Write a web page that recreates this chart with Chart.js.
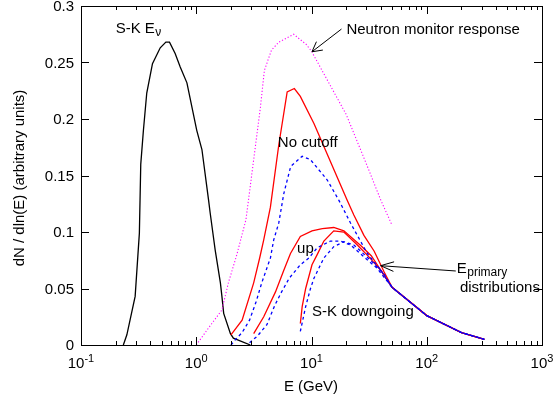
<!DOCTYPE html>
<html>
<head>
<meta charset="utf-8">
<script src="https://cdn.jsdelivr.net/npm/chart.js@4"></script>
<style>
  html, body { margin: 0; padding: 0; background: #fff; }
  #wrap { width: 554px; height: 402px; }
</style>
</head>
<body>
<div id="wrap"><canvas id="chart" width="554" height="402"></canvas></div>
<script>
// S-K neutrino energy spectrum (E in GeV, dN/dlnE)
const skE   = [0.233, 0.25, 0.295, 0.321, 0.33, 0.348, 0.372, 0.417, 0.487, 0.545, 0.586, 0.656, 0.726, 0.83, 1.01, 1.12, 1.28, 1.32, 1.46, 1.62, 1.67, 1.73, 1.98, 2.1, 2.95];
const skVal = [0, 0.009, 0.043, 0.099, 0.16, 0.19, 0.223, 0.249, 0.263, 0.268, 0.268, 0.258, 0.246, 0.232, 0.19, 0.173, 0.128, 0.117, 0.084, 0.055, 0.043, 0.028, 0.010, 0.006, 0];

// neutron monitor response
const nmE   = [1.0, 1.32, 1.67, 1.9, 2.25, 2.7, 3.15, 3.6, 3.9, 4.5, 5.2, 7.0, 9.0, 10, 20, 30, 40, 50];
const nmVal = [0, 0.017, 0.031, 0.055, 0.08, 0.111, 0.164, 0.21, 0.243, 0.261, 0.268, 0.275, 0.266, 0.26, 0.204, 0.16, 0.128, 0.106];

// primary energy distributions, common high energy tail
const tailE   = [100, 200, 316];
const tailVal = [0.026, 0.011, 0.005];

// no cutoff
const noCutRedE   = [2.0, 2.5, 3.15, 3.55, 3.85, 4.4, 5.2, 6.15, 7.1, 8.0, 10.5, 20.4, 23.3, 28.5, 35, 42.5, 50];
const noCutRedVal = [0.009, 0.022, 0.055, 0.077, 0.093, 0.122, 0.177, 0.224, 0.227, 0.22, 0.196, 0.128, 0.115, 0.097, 0.083, 0.065, 0.051];
const noCutBlueE   = [2.0, 2.2, 2.5, 2.9, 3.3, 3.7, 4.4, 4.7, 5.2, 5.75, 6.6, 8.3, 9.8, 13.7, 17.3, 21.8, 30.5, 40, 50];
const noCutBlueVal = [0, 0.005, 0.011, 0.022, 0.038, 0.055, 0.077, 0.093, 0.108, 0.134, 0.158, 0.167, 0.164, 0.146, 0.128, 0.108, 0.081, 0.066, 0.051];

// S-K upgoing
const upRedE   = [3.15, 3.85, 4.87, 5.74, 6.57, 8.0, 10.1, 12.4, 15.6, 19.1, 26.7, 33, 40, 50];
const upRedVal = [0.010, 0.025, 0.047, 0.066, 0.081, 0.096, 0.101, 0.103, 0.104, 0.101, 0.088, 0.079, 0.066, 0.051];
const upBlueE   = [2.9, 3.4, 4.1, 4.8, 5.5, 6.4, 8.0, 9.5, 11.2, 14.6, 17.9, 21.8, 28.5, 37, 50];
const upBlueVal = [0.002, 0.008, 0.018, 0.035, 0.047, 0.059, 0.071, 0.077, 0.086, 0.092, 0.092, 0.0885, 0.078, 0.068, 0.051];

// S-K downgoing
const downRedE   = [8.0, 8.3, 8.9, 10.1, 11.2, 12.8, 15.6, 19.1, 25, 31.5, 40, 50];
const downRedVal = [0.019, 0.034, 0.05, 0.071, 0.080, 0.092, 0.101, 0.1, 0.0885, 0.078, 0.066, 0.051];
const downBlueE   = [8.0, 8.9, 9.8, 10.5, 12.8, 15.6, 19.1, 23.3, 32.6, 42.5, 50];
const downBlueVal = [0.012, 0.034, 0.05, 0.059, 0.077, 0.087, 0.0914, 0.0885, 0.075, 0.063, 0.051];

const yTicks = [0, 0.05, 0.1, 0.15, 0.2, 0.25, 0.3];
const yTickLabels = ['0', '0.05', '0.1', '0.15', '0.2', '0.25', '0.3'];
const xDecades = [-1, 0, 1, 2, 3];

const FONT = "'Liberation Sans', Arial, sans-serif";

// text labels placed in data coordinates (E, value at baseline)
const notes = [
    { text: 'S-K E', sub: 'ν', e: 0.2, v: 0.276 },
    { text: 'Neutron monitor response', e: 20.1, v: 0.2752 },
    { text: 'No cutoff', e: 5.1, v: 0.1752 },
    { text: 'up', e: 7.5, v: 0.0814 },
    { text: 'S-K downgoing', e: 10.1, v: 0.0257 },
    { text: 'E', sub: 'primary', e: 182, v: 0.064 },
    { text: 'distributions', e: 194, v: 0.0472 }
];
const arrows = [
    { from: [18.2, 0.2796], to: [10.1, 0.2595], len: 11, ang: 0.5 },
    { from: [178.6, 0.0655], to: [39.8, 0.0702], len: 14, ang: 0.35 }
];

function pts(es, vs) {
    return es.map((e, i) => ({ x: e, y: vs[i] }));
}

function line(label, data, color, dash, width) {
    return {
        label: label,
        data: data,
        showLine: true,
        borderColor: color,
        borderWidth: width || 1.3,
        borderDash: dash || [],
        pointRadius: 0,
        tension: 0,
        fill: false
    };
}

const frame = {
    id: 'frame',
    afterDraw(chart) {
        const ctx = chart.ctx;
        const xs = chart.scales.x;
        const ys = chart.scales.y;
        const a = chart.chartArea;
        ctx.save();
        ctx.strokeStyle = '#000';
        ctx.fillStyle = '#000';
        ctx.lineWidth = 1;
        ctx.strokeRect(Math.round(a.left) + 0.5, Math.round(a.top) + 0.5,
            Math.round(a.right - a.left), Math.round(a.bottom - a.top));

        // log ticks on bottom and top, inward
        ctx.beginPath();
        xDecades.forEach(d => {
            for (let k = 1; k <= 9; k++) {
                if (d === 3 && k > 1) break;
                const px = Math.round(xs.getPixelForValue(k * Math.pow(10, d))) + 0.5;
                const len = k === 1 ? 8 : 4;
                ctx.moveTo(px, a.bottom); ctx.lineTo(px, a.bottom - len);
                ctx.moveTo(px, a.top); ctx.lineTo(px, a.top + len);
            }
        });
        yTicks.forEach(v => {
            const py = Math.round(ys.getPixelForValue(v)) + 0.5;
            ctx.moveTo(a.left, py); ctx.lineTo(a.left + 8, py);
            ctx.moveTo(a.right, py); ctx.lineTo(a.right - 8, py);
        });
        ctx.stroke();

        // y tick labels
        ctx.font = '15px ' + FONT;
        ctx.textAlign = 'right';
        ctx.textBaseline = 'middle';
        yTicks.forEach((v, i) => {
            ctx.fillText(yTickLabels[i], a.left - 7, ys.getPixelForValue(v) + 1);
        });

        // x tick labels 10^n
        ctx.textBaseline = 'alphabetic';
        ctx.textAlign = 'left';
        xDecades.forEach(d => {
            const px = xs.getPixelForValue(Math.pow(10, d));
            ctx.font = '15px ' + FONT;
            const wb = ctx.measureText('10').width;
            const ex = d < 0 ? '-' + (-d) : String(d);
            ctx.font = '11px ' + FONT;
            const we = ctx.measureText(ex).width;
            const x0 = px - (wb + we) / 2;
            ctx.font = '15px ' + FONT;
            ctx.fillText('10', x0, 368);
            ctx.font = '11px ' + FONT;
            ctx.fillText(ex, x0 + wb, 362);
        });

        // axis titles
        ctx.font = '15px ' + FONT;
        ctx.textAlign = 'center';
        ctx.fillText('E (GeV)', 311, 391);
        ctx.save();
        ctx.translate(24, 178);
        ctx.rotate(-Math.PI / 2);
        ctx.fillText('dN / dln(E) (arbitrary units)', 0, 0);
        ctx.restore();

        // labels inside the plot
        ctx.textAlign = 'left';
        notes.forEach(n => {
            const px = xs.getPixelForValue(n.e);
            const py = ys.getPixelForValue(n.v);
            ctx.font = '15px ' + FONT;
            ctx.fillText(n.text, px, py);
            if (n.sub) {
                const w = ctx.measureText(n.text).width;
                ctx.font = '12px ' + FONT;
                ctx.fillText(n.sub, px + w + 0.5, py + 3);
            }
        });

        // arrows
        arrows.forEach(ar => {
            const x0 = xs.getPixelForValue(ar.from[0]), y0 = ys.getPixelForValue(ar.from[1]);
            const x1 = xs.getPixelForValue(ar.to[0]), y1 = ys.getPixelForValue(ar.to[1]);
            const t = Math.atan2(y0 - y1, x0 - x1);
            ctx.beginPath();
            ctx.moveTo(x0, y0); ctx.lineTo(x1, y1);
            ctx.moveTo(x1 + ar.len * Math.cos(t - ar.ang), y1 + ar.len * Math.sin(t - ar.ang));
            ctx.lineTo(x1, y1);
            ctx.lineTo(x1 + ar.len * Math.cos(t + ar.ang), y1 + ar.len * Math.sin(t + ar.ang));
            ctx.stroke();
        });
        ctx.restore();
    }
};

function drawChart() {
    const ctx = document.getElementById('chart').getContext('2d');
    const blueDash = [3, 3];
    new Chart(ctx, {
        type: 'scatter',
        data: {
            datasets: [
                line('up blue', pts(upBlueE.concat(tailE), upBlueVal.concat(tailVal)), '#0000ff', blueDash),
                line('down blue', pts(downBlueE.concat(tailE), downBlueVal.concat(tailVal)), '#0000ff', blueDash),
                line('no cutoff blue', pts(noCutBlueE.concat(tailE), noCutBlueVal.concat(tailVal)), '#0000ff', blueDash),
                line('up red', pts(upRedE.concat(tailE), upRedVal.concat(tailVal)), '#ff0000'),
                line('down red', pts(downRedE.concat(tailE), downRedVal.concat(tailVal)), '#ff0000'),
                line('no cutoff red', pts(noCutRedE.concat(tailE), noCutRedVal.concat(tailVal)), '#ff0000'),
                line('neutron monitor', pts(nmE, nmVal), '#ff00ff', [1.2, 2], 1.1),
                line('S-K E', pts(skE, skVal), '#000000')
            ]
        },
        options: {
            responsive: false,
            animation: false,
            layout: { padding: { top: 6, right: 12, left: 0, bottom: 0 } },
            plugins: {
                legend: { display: false },
                tooltip: { enabled: false }
            },
            scales: {
                x: {
                    type: 'logarithmic',
                    min: 0.1,
                    max: 1000,
                    grid: { display: false },
                    border: { display: false },
                    ticks: { display: false },
                    afterFit: scale => { scale.height = 57; }
                },
                y: {
                    min: 0,
                    max: 0.3,
                    grid: { display: false },
                    border: { display: false },
                    ticks: { display: false },
                    afterFit: scale => { scale.width = 81; }
                }
            }
        },
        plugins: [frame]
    });
}

document.addEventListener('DOMContentLoaded', function() {
    drawChart();
});
</script>
</body>
</html>
